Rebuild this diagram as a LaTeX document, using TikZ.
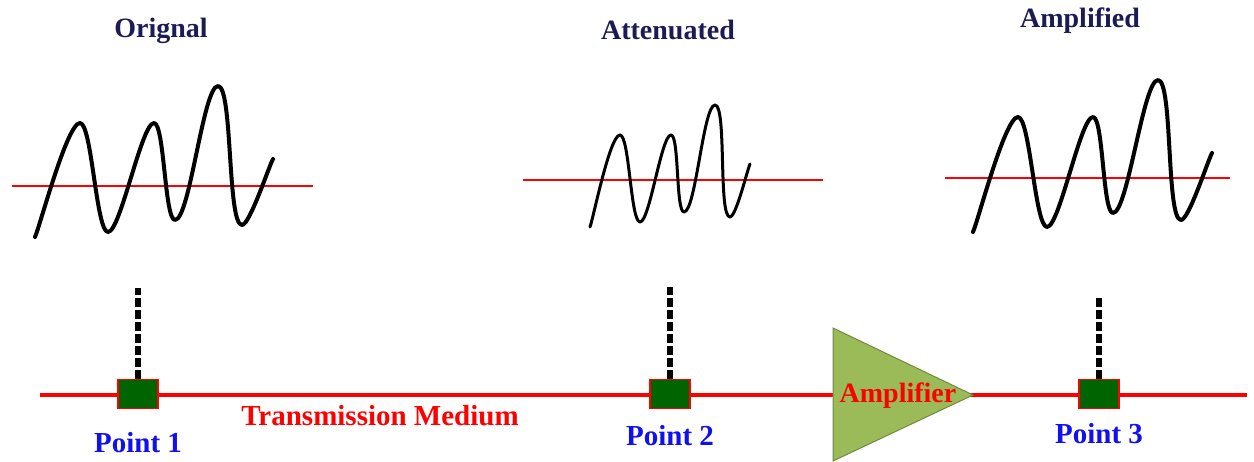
\documentclass[tikz,border=0pt]{standalone}
\usepackage{fontspec}
\setmainfont{Liberation Serif}
\usetikzlibrary{positioning}
\definecolor{titlenavy}{HTML}{1C1C54}
\definecolor{boxgreen}{HTML}{006400}
\definecolor{ampfill}{HTML}{9BBB59}
\definecolor{ampdraw}{HTML}{71893F}
\definecolor{ptblue}{HTML}{1010F0}

\begin{document}
\begin{tikzpicture}[x=1pt,y=1pt,
  title/.style={font=\bfseries\fontsize{28}{32}\selectfont, text=titlenavy, anchor=base, inner sep=0pt},
  ptbox/.style={draw=red, line width=1.2pt, fill=boxgreen, minimum width=40pt, minimum height=29pt, inner sep=0pt},
  ptlabel/.style={font=\bfseries\fontsize{29}{33}\selectfont, text=ptblue, anchor=base, inner sep=0pt},
  dashline/.style={line width=6pt, dash pattern=on 9pt off 3pt},
  zeroline/.style={red, line width=1.5pt},
  wave/.style={line width=4pt, line cap=round, line join=round, looseness=0.27}]
\useasboundingbox (0,0) rectangle (1254,461);

% signals
\draw[zeroline] (12,275) -- (313,275);
\draw[wave] (35,224) to[out=66,in=180] (80,338) to[out=0,in=180] (108,229)
  to[out=0,in=180] (154,338) to[out=0,in=180] (175,241) to[out=0,in=180] (218,375)
  to[out=0,in=180] (242,236) to[out=0,in=240] (273,302);
\draw[zeroline] (523,281) -- (823,281);
\draw[wave, line width=3pt] (590,234) to[out=70,in=180] (620,326) to[out=0,in=180] (640,239)
  to[out=0,in=180] (671,326) to[out=0,in=180] (684,249) to[out=0,in=180] (715,356)
  to[out=0,in=180] (730,244) to[out=0,in=245] (750,297);
\draw[zeroline] (945,283) -- (1230,283);
\draw[wave] (973,229) to[out=66,in=180] (1018,344) to[out=0,in=180] (1047,234)
  to[out=0,in=180] (1093,344) to[out=0,in=180] (1113,248) to[out=0,in=180] (1158,381)
  to[out=0,in=180] (1181,241) to[out=0,in=240] (1212,308);

\node[title] (orig) at (161,423) {Orignal};
\node[title] (atten) at (668,421) {Attenuated};
\node[title] (ampl) at (1080,433) {Amplified};

% medium
\draw[red, line width=4pt] (40,66) -- (1247,66);
\node[font=\bfseries\fontsize{29}{33}\selectfont, text=red, anchor=base, inner sep=0pt] (medium) at (380,36) {Transmission Medium};

\draw[ampdraw, fill=ampfill, line width=1pt] (833,133) -- (973,66) -- (833,0) -- cycle;
\node[font=\bfseries\fontsize{28}{32}\selectfont, text=red, anchor=base, inner sep=0pt] (amp) at (898,59) {Amplifier};

\foreach \n/\x/\t/\b in {1/138/173/9,2/670/174/16,3/1099/166/18} {
  \node[ptbox] (p\n) at (\x,67) {};
  \coordinate (d\n) at (\x,\t);
  \draw[dashline] (p\n.north) -- (d\n);
  \node[ptlabel] (l\n) at (\x,\b) {Point \n};
}
\end{tikzpicture}
\end{document}
